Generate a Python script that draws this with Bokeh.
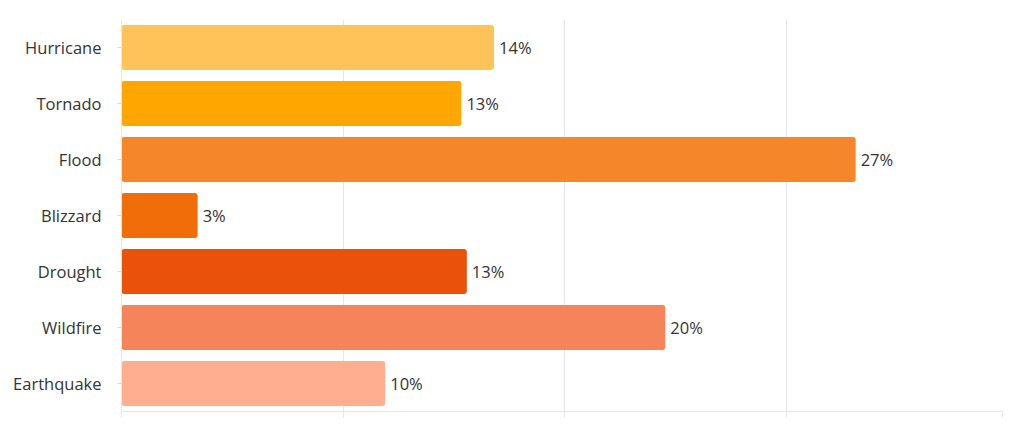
from bokeh.plotting import figure
from bokeh.models import ColumnDataSource, FixedTicker
from bokeh.core.properties import value
from bokeh.embed import file_html
from bokeh.resources import INLINE

categories = ["Hurricane", "Tornado", "Flood", "Blizzard", "Drought", "Wildfire", "Earthquake"]
shares = [13.7, 12.5, 27.0, 2.8, 12.7, 20.0, 9.7]
labels = ["14%", "13%", "27%", "3%", "13%", "20%", "10%"]
colors = ["#FFC35A", "#FFA600", "#F5862A", "#F16D0A", "#EA520B", "#F5845A", "#FFAF90"]
grid_ticks = [0, 8.15, 16.3, 24.45, 32.4]

src = ColumnDataSource(dict(cat=categories, v=shares, lab=labels, col=colors))

p = figure(width=1024, height=433, y_range=list(reversed(categories)),
           x_range=(0, 32.4), output_backend="svg", toolbar_location=None,
           min_border_left=121, min_border_right=22, min_border_top=19, min_border_bottom=22)
p.outline_line_color = None
p.background_fill_color = "white"

p.hbar(y="cat", right="v", left=0, height=0.8, fill_color="col", line_color=None,
       source=src, border_radius=3)
p.text(x="v", y="cat", text="lab", source=src, x_offset=5, text_baseline="middle",
       text_font=value("Open Sans"), text_font_size="16.5px", text_color="#333333")

p.xgrid.ticker = FixedTicker(ticks=grid_ticks)
p.xgrid.grid_line_color = "#E6E6EE"
p.ygrid.grid_line_color = None

p.xaxis.ticker = FixedTicker(ticks=grid_ticks)
p.xaxis.major_label_overrides = {t: "" for t in grid_ticks}
p.xaxis.axis_line_color = "#E6E6EE"
p.xaxis.major_tick_line_color = "#E6E6EE"
p.xaxis.major_tick_out = 6
p.xaxis.major_tick_in = 0
p.xaxis.minor_tick_line_color = None

p.yaxis.axis_line_color = "#E6E6EE"
p.yaxis.major_tick_line_color = "#D8D8D8"
p.yaxis.major_tick_out = 4
p.yaxis.major_tick_in = 0
p.yaxis.major_label_standoff = 16
p.yaxis.major_label_text_font = "Open Sans"
p.yaxis.major_label_text_font_size = "16.5px"
p.yaxis.major_label_text_color = "#333333"

open("out.html", "w").write(file_html(p, INLINE))
